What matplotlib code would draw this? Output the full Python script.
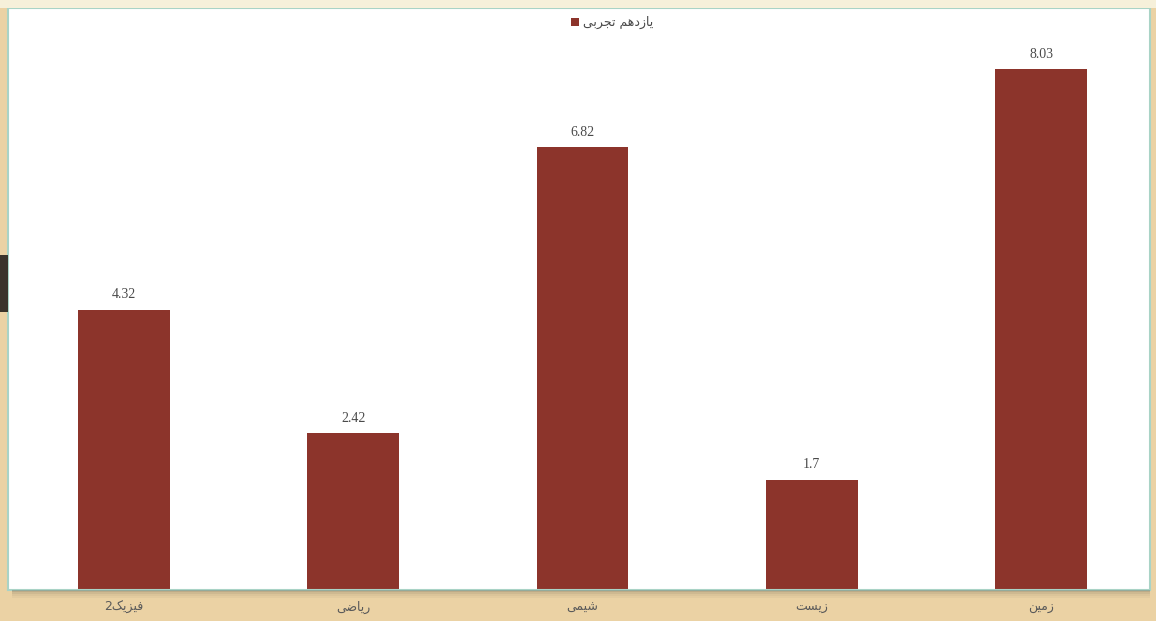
import matplotlib
matplotlib.use('Agg')
import matplotlib.pyplot as plt
from matplotlib.patches import Rectangle

# ***************************** data *****************************
subjects = ['فیزیک2', 'ریاضی', 'شیمی', 'زیست', 'زمین']
scores = [4.32, 2.42, 6.82, 1.7, 8.03]
score_labels = ['4.32', '2.42', '6.82', '1.7', '8.03']
series_name = 'یازدهم تجربی'

BAR_COLOR = '#8C342B'
BG_COLOR = '#EBD2A4'
BORDER_COLOR = '#A9D3C6'

# ***************************** persian shaping *****************************
# matplotlib has no complex text layout, so pick the joined glyph forms by hand
# (isolated, final, initial, medial)
FORMS = {
    'ا': ('\uFE8D', '\uFE8E', None, None),
    'ب': ('\uFE8F', '\uFE90', '\uFE91', '\uFE92'),
    'ت': ('\uFE95', '\uFE96', '\uFE97', '\uFE98'),
    'ج': ('\uFE9D', '\uFE9E', '\uFE9F', '\uFEA0'),
    'د': ('\uFEA9', '\uFEAA', None, None),
    'ر': ('\uFEAD', '\uFEAE', None, None),
    'ز': ('\uFEAF', '\uFEB0', None, None),
    'س': ('\uFEB1', '\uFEB2', '\uFEB3', '\uFEB4'),
    'ش': ('\uFEB5', '\uFEB6', '\uFEB7', '\uFEB8'),
    'ض': ('\uFEBD', '\uFEBE', '\uFEBF', '\uFEC0'),
    'ف': ('\uFED1', '\uFED2', '\uFED3', '\uFED4'),
    'م': ('\uFEE1', '\uFEE2', '\uFEE3', '\uFEE4'),
    'ن': ('\uFEE5', '\uFEE6', '\uFEE7', '\uFEE8'),
    'ه': ('\uFEE9', '\uFEEA', '\uFEEB', '\uFEEC'),
    '\u06CC': ('\uFBFC', '\uFBFD', '\uFBFE', '\uFBFF'),
    '\u064A': ('\uFEF1', '\uFEF2', '\uFEF3', '\uFEF4'),
    '\u06A9': ('\uFB8E', '\uFB8F', '\uFB90', '\uFB91'),
    '\u0643': ('\uFED9', '\uFEDA', '\uFEDB', '\uFEDC'),
}


def shape(text):
    out = []
    for i, ch in enumerate(text):
        if ch not in FORMS:
            out.append(ch)
            continue
        prev = text[i - 1] if i > 0 else ''
        nxt = text[i + 1] if i + 1 < len(text) else ''
        joins_prev = prev in FORMS and FORMS[prev][2] is not None
        joins_next = nxt in FORMS and FORMS[ch][2] is not None
        iso, fin, ini, med = FORMS[ch]
        if joins_prev and joins_next:
            out.append(med)
        elif joins_prev:
            out.append(fin)
        elif joins_next:
            out.append(ini)
        else:
            out.append(iso)
    return ''.join(out)[::-1]


# ***************************** figure *****************************
fig = plt.figure(figsize=(11.56, 6.21), dpi=100, facecolor=BG_COLOR)

# pale strip along the top and the dark tab on the left edge
fig.patches.append(Rectangle((0, 1 - 8 / 621), 1, 8 / 621, transform=fig.transFigure,
                             facecolor='#F6F0DA', edgecolor='none', zorder=0))
fig.patches.append(Rectangle((0, 1 - 312 / 621), 8 / 1156, 57 / 621, transform=fig.transFigure,
                             facecolor='#3A332B', edgecolor='none', zorder=0))
# soft shadow under the chart panel
for k, a in enumerate([0.35, 0.22, 0.12, 0.06]):
    fig.patches.append(Rectangle((12 / 1156, 1 - (592 + 2 * k) / 621), 1138 / 1156, 2 / 621,
                                 transform=fig.transFigure, facecolor='#6b6250',
                                 alpha=a, edgecolor='none', zorder=0))

ax = fig.add_axes([8 / 1156, 1 - 590 / 621, 1142 / 1156, 582 / 621])
ax.set_facecolor('white')

x = list(range(len(subjects)))
bars = ax.bar(x, scores, width=0.4, color=BAR_COLOR, label=shape(series_name), zorder=2)

for xi, v, lab in zip(x, scores, score_labels):
    ax.annotate(lab, (xi, v), xytext=(0, 6), textcoords='offset points',
                ha='center', va='bottom', fontsize=10, color='#4a4a4a',
                family=['Liberation Serif', 'DejaVu Serif'])

ax.set_xlim(-0.506, 4.475)
ax.set_ylim(0, 582 / 64.9)
ax.set_xticks(x)
ax.set_xticklabels([shape(s) for s in subjects], family=['DejaVu Sans'],
                   fontsize=9, color='#5a5a5a')
ax.tick_params(axis='x', length=0, pad=8)
ax.set_yticks([])
for side in ax.spines.values():
    side.set_color(BORDER_COLOR)
    side.set_linewidth(1.5)

leg = ax.legend(loc='upper center', bbox_to_anchor=(0.529, 1.005), frameon=False,
                markerfirst=True, handlelength=0.6, handleheight=0.6,
                handletextpad=0.3, prop={'family': 'DejaVu Sans', 'size': 9})
for t in leg.get_texts():
    t.set_color('#4a4a4a')

fig.savefig('out.png', dpi=100, facecolor=BG_COLOR)
